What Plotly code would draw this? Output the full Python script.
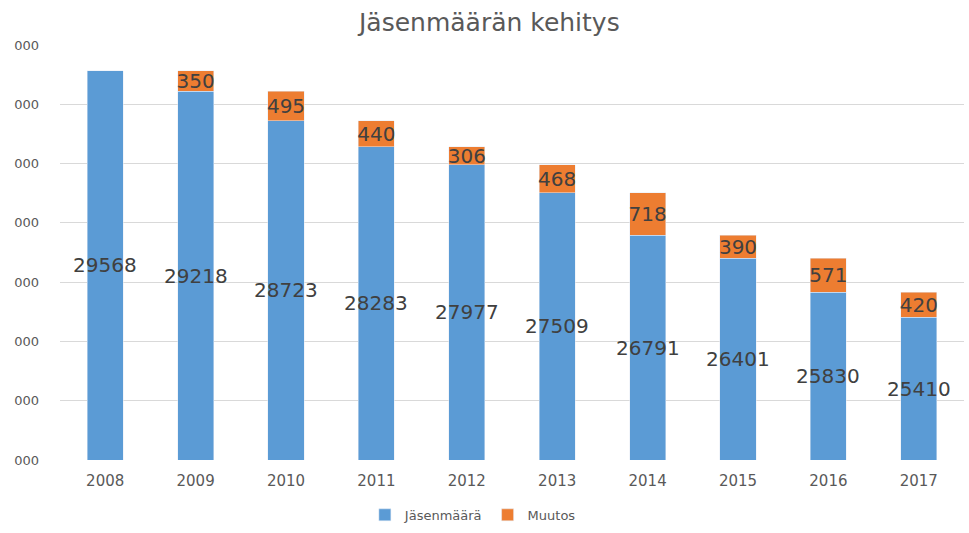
import plotly.graph_objects as go

years = ["2008", "2009", "2010", "2011", "2012", "2013", "2014", "2015", "2016", "2017"]
members = [29568, 29218, 28723, 28283, 27977, 27509, 26791, 26401, 25830, 25410]
change = [None, 350, 495, 440, 306, 468, 718, 390, 571, 420]
y_min, y_max = 23000, 30000
tick_vals = [23000, 24000, 25000, 26000, 27000, 28000, 29000, 30000]
tick_text = ["000"] * 8

BLUE = "#5B9BD5"
ORANGE = "#ED7D31"
LABEL = "#404040"
GRAY = "#595959"
FONT = "DejaVu Sans"

fig = go.Figure()
fig.add_trace(go.Bar(
    x=years, y=members, name="Jäsenmäärä", marker_color=BLUE,
))
fig.add_trace(go.Bar(
    x=years, y=change, name="Muutos", marker_color=ORANGE,
    text=["" if v is None else str(v) for v in change], textposition="inside",
    insidetextanchor="middle", textangle=0, constraintext="none",
    textfont=dict(family=FONT, size=20, color=LABEL),
))

# labels for the blue segments, centred in the visible part of each bar
# (x given as the category index of each year)
for i, v in enumerate(members):
    fig.add_annotation(x=i, y=(y_min + v) / 2, text=str(v), showarrow=False,
                       xref="x", yref="y",
                       font=dict(family=FONT, size=20, color=LABEL))

fig.update_layout(
    barmode="stack", bargap=0.6,
    width=969, height=533,
    margin=dict(l=60, r=5, t=45, b=73),
    paper_bgcolor="white", plot_bgcolor="white",
    font=dict(family=FONT, color=GRAY),
    title=dict(text="Jäsenmäärän kehitys", x=0.505, xanchor="center", xref="container",
               y=1 - 22 / 533, yref="container", yanchor="middle",
               font=dict(family=FONT, size=25, color=GRAY)),
    legend=dict(orientation="h", x=0.488, xref="container", xanchor="center",
                y=0.034, yref="container", yanchor="middle",
                font=dict(size=13, color=GRAY), traceorder="normal", itemwidth=30),
    showlegend=True,
)
fig.update_xaxes(type="category", range=[-0.5, len(years) - 0.5], showgrid=False,
                 showline=False, ticks="", ticklabelstandoff=10,
                 tickfont=dict(size=15, color=GRAY))
fig.update_yaxes(range=[y_min, y_max], tickvals=tick_vals, ticktext=tick_text,
                 showgrid=True, gridcolor="#D9D9D9", gridwidth=1, zeroline=False,
                 ticklabelstandoff=20, tickfont=dict(size=13, color=GRAY))

fig.write_html("out.html", config={"displayModeBar": False},
               post_script="document.body.style.margin='0';")
